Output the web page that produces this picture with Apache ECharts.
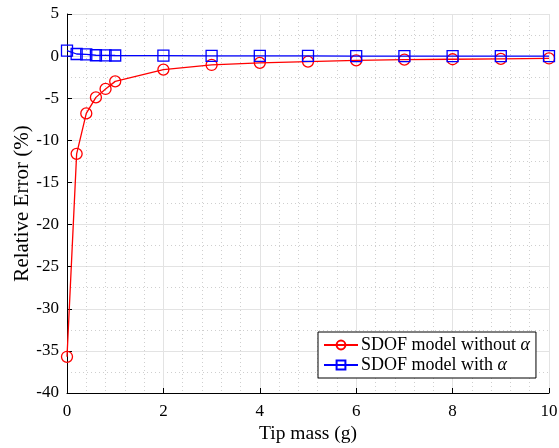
<!DOCTYPE html>
<html>
<head>
<meta charset="utf-8">
<script src="https://cdn.jsdelivr.net/npm/echarts@6/dist/echarts.min.js"></script>
<style>
  html, body { margin: 0; padding: 0; background: #fff; }
  #chart { width: 559px; height: 448px; }
</style>
</head>
<body>
<div id="chart"></div>
<script>
// Tip mass (g)
const tipMass = [0, 0.2, 0.4, 0.6, 0.8, 1, 2, 3, 4, 5, 6, 7, 8, 9, 10];
// Relative error (%) of the SDOF model without the correction factor alpha
const errWithoutAlpha = [-35.7, -11.6, -6.8, -4.9, -3.9, -3.0, -1.6, -1.05, -0.8, -0.65, -0.5, -0.42, -0.37, -0.32, -0.28];
// Relative error (%) of the SDOF model with alpha
const errWithAlpha = [0.65, 0.25, 0.2, 0.1, 0.08, 0.07, 0.05, 0.03, 0.02, 0.02, 0.01, 0.0, 0.0, 0.0, 0.0];
const seriesNames = ['SDOF model without α', 'SDOF model with α'];

const FONT = '"Liberation Serif", "DejaVu Serif", serif';
const pairs = (xs, ys) => xs.map((x, i) => [x, ys[i]]);

const chart = echarts.init(document.getElementById('chart'), null, { renderer: 'canvas' });

function axisBase() {
  return {
    type: 'value',
    nameMoveOverlap: false,
    axisLine: { show: true, onZero: false, lineStyle: { color: '#000', width: 1 } },
    axisTick: { show: true, inside: true, length: 5, lineStyle: { color: '#000' } },
    splitLine: { show: true, lineStyle: { color: '#e3e3e3', width: 1 } },
    minorSplitLine: { show: true, lineStyle: { color: '#cfcfcf', type: [1, 3], width: 1 } }
  };
}

// Legend entries: plain text followed by an italic alpha
const legendLabel = (name) => '{t|' + name.replace(' α', '') + ' }{a|α}';

chart.setOption({
  backgroundColor: '#fff',
  animation: false,
  grid: { left: 67, right: 10, top: 14, bottom: 55, containLabel: false, outerBoundsMode: 'none' },
  xAxis: Object.assign(axisBase(), {
    min: 0, max: 10, interval: 2,
    name: 'Tip mass (g)', nameLocation: 'middle', nameGap: 31,
    nameTextStyle: { color: '#000', fontFamily: FONT, fontSize: 19.5 },
    minorTick: { show: false, splitNumber: 5 },
    axisLabel: { color: '#000', fontFamily: FONT, fontSize: 17, margin: 10 }
  }),
  yAxis: Object.assign(axisBase(), {
    min: -40, max: 5, interval: 5,
    name: 'Relative Error (%)', nameLocation: 'middle', nameGap: 34,
    nameTextStyle: { color: '#000', fontFamily: FONT, fontSize: 21 },
    minorTick: { show: false, splitNumber: 2 },
    axisLabel: { color: '#000', fontFamily: FONT, fontSize: 17, margin: 8 }
  }),
  legend: {
    left: 318, top: 332,
    orient: 'vertical',
    backgroundColor: '#fff',
    borderColor: '#000', borderWidth: 1, borderRadius: 0,
    padding: [4, 6, 4, 5],
    itemGap: 2,
    itemWidth: 34, itemHeight: 11,
    data: seriesNames,
    formatter: legendLabel,
    textStyle: {
      color: '#000', fontFamily: FONT, fontSize: 18, padding: [0, 0, 0, -2],
      rich: {
        t: { fontFamily: FONT, fontSize: 18, color: '#000', lineHeight: 20 },
        a: { fontFamily: FONT, fontSize: 18, fontStyle: 'italic', color: '#000', lineHeight: 20 }
      }
    }
  },
  series: [
    {
      name: seriesNames[0],
      type: 'line',
      data: pairs(tipMass, errWithoutAlpha),
      clip: false,
      symbol: 'circle', symbolSize: 11,
      lineStyle: { color: '#ff0000', width: 1.3 },
      itemStyle: { color: 'rgba(255,255,255,0)', borderColor: '#ff0000', borderWidth: 1.3 },
      z: 3
    },
    {
      name: seriesNames[1],
      type: 'line',
      data: pairs(tipMass, errWithAlpha),
      clip: false,
      symbol: 'rect', symbolSize: 11,
      lineStyle: { color: '#0000ff', width: 1.3 },
      itemStyle: { color: 'rgba(255,255,255,0)', borderColor: '#0000ff', borderWidth: 1.3 },
      z: 4
    }
  ]
});
</script>
</body>
</html>
